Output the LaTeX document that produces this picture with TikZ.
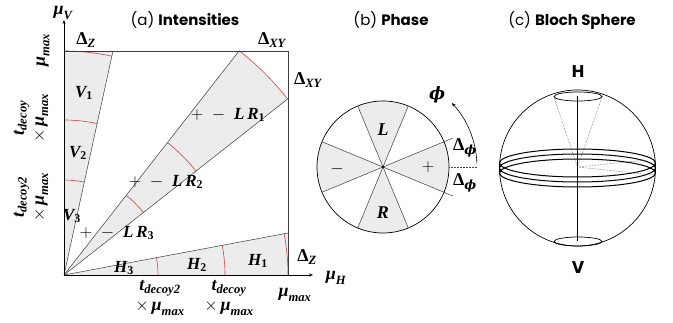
\documentclass[tikz,border=0pt]{standalone}
\usepackage{amsmath}
\usepackage{fontspec}
\setsansfont{Poppins}
\newfontfamily\lbf{Liberation Serif}
\newfontfamily\dvs{DejaVu Serif}
\newcommand{\bi}[1]{\text{\lbf\bfseries\itshape #1}}
\newcommand{\bu}[1]{\text{\lbf\bfseries #1}}
\newcommand{\bphi}{\text{\dvs\bfseries\itshape ϕ}}
\usetikzlibrary{arrows.meta}
\definecolor{wedgegray}{RGB}{236,236,236}
\definecolor{arcred}{RGB}{200,70,70}
\definecolor{linegray}{RGB}{60,60,60}
\tikzset{
  ttl/.style={font=\sffamily\fontsize{15}{17}\selectfont, inner sep=0pt},
  lab/.style={font=\fontsize{18}{18}\selectfont, inner sep=0pt},
  lab2/.style={font=\fontsize{18}{20}\selectfont, inner sep=0pt, align=center},
  wlab/.style={font=\fontsize{17}{17}\selectfont, inner sep=0pt},
  wedgefill/.style={fill=wedgegray},
  thinline/.style={draw=linegray, line width=0.5pt},
  boxline/.style={draw=linegray, line width=0.8pt},
  redarc/.style={draw=arcred, line width=0.6pt},
  axis/.style={draw=black, line width=0.6pt, -{Stealth[length=4pt,width=3pt]}},
  sph/.style={draw=black, line width=0.7pt},
  ring/.style={draw=black, line width=1pt},
  dots/.style={draw=black!70, line width=0.5pt, densely dotted},
}
\begin{document}
\begin{tikzpicture}[x=1pt,y=1pt]
\useasboundingbox (0,0) rectangle (673,-323);

% titles
\node[ttl] (ta) at (185,-20) {(a) \textbf{Intensities}};
\node[ttl] (tb) at (391,-20) {(b) \textbf{Phase}};
\node[ttl] (tc) at (572,-20) {(c) \textbf{Bloch Sphere}};

% ---------- (a) Intensities ----------
\begin{scope}[shift={(64,-275)}]
  \coordinate (O) at (0,0);
  \coordinate (TL) at (0,224);
  \coordinate (TR) at (224,224);
  \coordinate (BR) at (224,0);
  \coordinate (Vtop) at (0,255);
  \coordinate (Hend) at (249,0);
  \coordinate (Vedge) at (49,224);
  \coordinate (Hedge) at (224,42);
  \coordinate (XYa) at (52:284.6);
  \coordinate (XYb) at (38.2:284.6);
  % fills
  \path[wedgefill] (O) -- (TL) -- (Vedge) -- cycle;
  \path[wedgefill] (O) -- (BR) -- (Hedge) -- cycle;
  \path[wedgefill] (O) -- (XYa) arc[start angle=52, end angle=38.2, radius=284.6] -- cycle;
  % red arcs
  \foreach \r in {224,155,95} {\draw[redarc] (90:\r) arc[start angle=90, end angle=77.66, radius=\r];}
  \foreach \r in {224,161,94} {\draw[redarc] (0:\r) arc[start angle=0, end angle=10.62, radius=\r];}
  \foreach \r in {284.6,168,101} {\draw[redarc] (38.2:\r) arc[start angle=38.2, end angle=52, radius=\r];}
  % wedge lines
  \draw[thinline] (O) -- (Vedge);
  \draw[thinline] (O) -- (Hedge);
  \draw[thinline] (O) -- (XYa);
  \draw[thinline] (O) -- (XYb);
  % box
  \draw[boxline] (TL) -- (TR) -- (BR);
  % axes
  \draw[axis] (O) -- (Vtop);
  \draw[axis] (O) -- (Hend);
\end{scope}

% axis labels
\node[lab] (muV) at (63,-13) {$\bi{μ}_{\bi{V}}$};
\node[lab] (muH) at (336,-278) {$\bi{μ}_{\bi{H}}$};
\node[lab] (dZt) at (86,-40) {$\bu{Δ}_{\bi{Z}}$};
\node[lab] (dXYt) at (272,-40) {$\bu{Δ}_{\bi{XY}}$};
\node[lab] (dXYr) at (308,-80) {$\bu{Δ}_{\bi{XY}}$};
\node[lab] (dZr) at (307,-257) {$\bu{Δ}_{\bi{Z}}$};
% left rotated
\node[lab, rotate=90] (lmax) at (43,-50) {$\bi{μ}_{\bi{max}}$};
\node[lab2, rotate=90] (ldec) at (31,-118) {$\bi{t}_{\bi{decoy}}$\\$\times\,\bi{μ}_{\bi{max}}$};
\node[lab2, rotate=90] (ldec2) at (31,-197) {$\bi{t}_{\bi{decoy2}}$\\$\times\,\bi{μ}_{\bi{max}}$};
% bottom
\node[lab2] (bdec2) at (160,-298) {$\bi{t}_{\bi{decoy2}}$\\$\times\,\bi{μ}_{\bi{max}}$};
\node[lab2] (bdec) at (229,-298) {$\bi{t}_{\bi{decoy}}$\\$\times\,\bi{μ}_{\bi{max}}$};
\node[lab] (bmax) at (295,-295) {$\bi{μ}_{\bi{max}}$};
% wedge labels
\node[wlab] (V1) at (84,-93) {$\bi{V}_{\bu{1}}$};
\node[wlab] (V2) at (78,-153) {$\bi{V}_{\bu{2}}$};
\node[wlab] (V3) at (72,-216) {$\bi{V}_{\bu{3}}$};
\node[wlab] (H1) at (258,-261) {$\bi{H}_{\bu{1}}$};
\node[wlab] (H2) at (197,-265) {$\bi{H}_{\bu{2}}$};
\node[wlab] (H3) at (124,-268) {$\bi{H}_{\bu{3}}$};
\node[wlab] (R1) at (228,-115) {$+\;-\;\bi{L}\,\bi{R}_{\bu{1}}$};
\node[wlab] (R2) at (166,-182) {$+\;-\;\bi{L}\,\bi{R}_{\bu{2}}$};
\node[wlab] (R3) at (117,-233) {$+\;-\;\bi{L}\,\bi{R}_{\bu{3}}$};

% ---------- (b) Phase ----------
\begin{scope}[shift={(383,-167)}]
  \coordinate (P) at (0,0);
  \foreach \t in {0,90,180,270} {
    \path[wedgefill] (P) -- (\t-22.5:66) arc[start angle=\t-22.5, end angle=\t+22.5, radius=66] -- cycle;
  }
  \draw[thinline] (202.5:66) -- (22.5:76);
  \draw[thinline] (157.5:66) -- (-22.5:76);
  \draw[thinline] (112.5:66) -- (292.5:66);
  \draw[thinline] (67.5:66) -- (247.5:66);
  \draw[sph] (P) circle[radius=66];
  \fill (P) circle[radius=1.2];
  \coordinate (pa) at (0:66);
  \coordinate (pb) at (0:94);
  \draw[dots] (pa) -- (pb);
  \draw[line width=0.6pt, -{Stealth[length=4pt,width=3pt]}] (2:94) arc[start angle=2, end angle=43, radius=94];
\end{scope}
\node[lab] (Lp) at (383,-130) {$\bi{L}$};
\node[lab] (Rp) at (383,-213) {$\bi{R}$};
\node[lab, font=\fontsize{19}{19}\selectfont] (mp) at (337,-169) {$-$};
\node[lab, font=\fontsize{19}{19}\selectfont] (pp) at (428,-167) {$+$};
\node[lab, font=\fontsize{17}{17}\selectfont] (phi) at (437,-95) {$\bphi$};
\node[lab] (dp1) at (465,-148) {$\bu{Δ}_{\bphi}$};
\node[lab] (dp2) at (465,-183) {$\bu{Δ}_{\bphi}$};

% ---------- (c) Bloch sphere ----------
\begin{scope}[shift={(577.5,-168)}]
  \coordinate (S) at (0,1);
  \coordinate (Np) at (0,72);
  \coordinate (Sp) at (0,-73);
  \draw[sph] (0,0) circle[radius=78];
  \draw[sph] (0.5,71.5) ellipse[x radius=24, y radius=4.5];
  \draw[sph] (0.5,-73.5) ellipse[x radius=24, y radius=4.5];
  \draw[sph] (Np) -- (Sp);
  \draw[ring] (0,5) ellipse[x radius=78, y radius=14];
  \draw[ring] (0,0) ellipse[x radius=78, y radius=14];
  \draw[ring] (0,-5) ellipse[x radius=78, y radius=14];
  \draw[dots] (S) -- (-23.5,71);
  \draw[dots] (S) -- (24.5,71);
  \draw[dots] (S) -- (69.5,8);
  \draw[dots] (S) -- (75.5,-7);
\end{scope}
\node[ttl, font=\sffamily\bfseries\fontsize{17}{17}\selectfont] (Hb) at (578,-72) {H};
\node[ttl, font=\sffamily\bfseries\fontsize{17}{17}\selectfont] (Vb) at (578,-268) {V};
\end{tikzpicture}
\end{document}
